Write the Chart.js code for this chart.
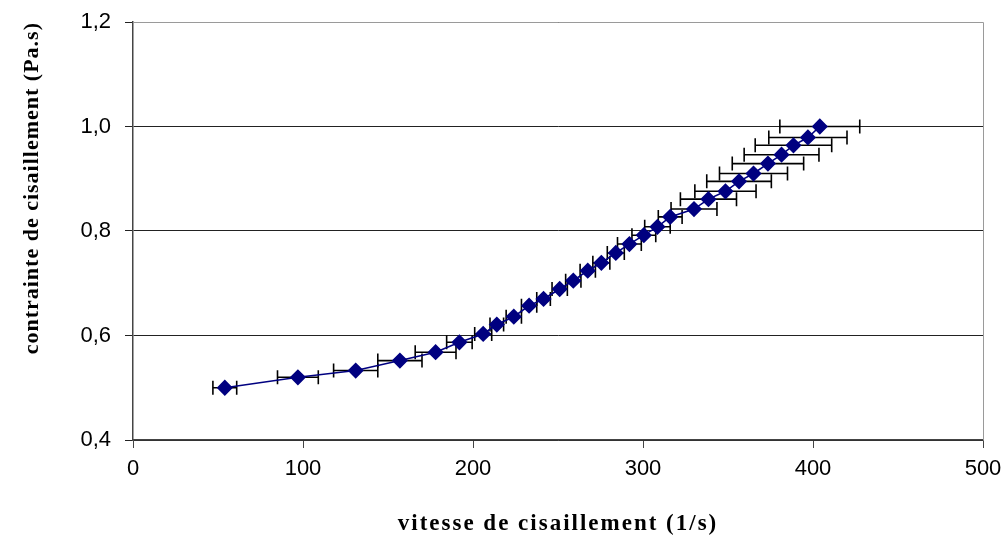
<!DOCTYPE html>
<html>
<head>
<meta charset="utf-8">
<script src="https://cdn.jsdelivr.net/npm/chart.js@4.4.0/dist/chart.umd.min.js"></script>
<style>
  html, body { margin: 0; padding: 0; background: #fff; }
  #wrap { width: 1006px; height: 540px; }
</style>
</head>
<body>
<div id="wrap"><canvas id="myChart" width="1006" height="540"></canvas></div>
<script>
// vitesse de cisaillement (1/s)
const shearRate = [54, 97, 131, 157, 178, 192, 206, 214, 224, 233, 241.5, 251, 259, 267.5, 275.5,
    284, 292, 300.5, 308.5, 316, 330, 338.5, 348.5, 356.5, 365, 373.5, 381.5, 388.5, 397, 404];
// contrainte de cisaillement
const stress = [0.500, 0.520, 0.533, 0.552, 0.568, 0.587, 0.603, 0.621, 0.636, 0.657, 0.670, 0.689, 0.705, 0.724, 0.739,
    0.758, 0.775, 0.792, 0.808, 0.827, 0.842, 0.861, 0.876, 0.895, 0.910, 0.929, 0.946, 0.964, 0.979, 1.000];
// erreur horizontale (+/-)
const rateError = [7, 12, 13, 13, 12, 7.5, 5, 4, 4.5, 4.5, 4, 4.5, 4.5, 4.5, 5,
    5, 7, 7, 7.5, 7, 13.5, 16.5, 18, 19, 20, 21, 22, 22.5, 23, 23.5];

const xTicks = [0, 100, 200, 300, 400, 500];
const yTicks = [0.4, 0.6, 0.8, 1.0, 1.2];

const points = shearRate.map((x, i) => ({ x: x, y: stress[i] }));

// espacement des lettres pour les titres d'axe seulement
function spacedTitle(axis, spacing) {
    if (axis._spaced) return;
    axis._spaced = true;
    const orig = axis.drawTitle;
    axis.drawTitle = function () {
        const ctx = this.ctx;
        ctx.letterSpacing = spacing;
        orig.apply(this, arguments);
        ctx.letterSpacing = '0px';
    };
}

// barres d'erreur horizontales
const errorBars = {
    id: 'errorBars',
    beforeDatasetsDraw(chart) {
        const ctx = chart.ctx;
        const xs = chart.scales.x;
        const ys = chart.scales.y;
        ctx.save();
        ctx.strokeStyle = '#000';
        ctx.lineWidth = 1.6;
        points.forEach((p, i) => {
            const py = ys.getPixelForValue(p.y);
            const x1 = xs.getPixelForValue(p.x - rateError[i]);
            const x2 = xs.getPixelForValue(p.x + rateError[i]);
            ctx.beginPath();
            ctx.moveTo(x1, py);
            ctx.lineTo(x2, py);
            ctx.moveTo(x1, py - 7);
            ctx.lineTo(x1, py + 7);
            ctx.moveTo(x2, py - 7);
            ctx.lineTo(x2, py + 7);
            ctx.stroke();
        });
        ctx.restore();
    }
};

// bordure du graphique (haut et droite)
const frame = {
    id: 'frame',
    beforeDatasetsDraw(chart) {
        const a = chart.chartArea;
        const ctx = chart.ctx;
        ctx.save();
        ctx.strokeStyle = '#9a9a9a';
        ctx.lineWidth = 1;
        ctx.beginPath();
        ctx.moveTo(a.left, a.top + 0.5);
        ctx.lineTo(a.right + 0.5, a.top + 0.5);
        ctx.lineTo(a.right + 0.5, a.bottom);
        ctx.stroke();
        ctx.restore();
    }
};

new Chart(document.getElementById('myChart'), {
    type: 'scatter',
    data: {
        datasets: [{
            data: points,
            showLine: true,
            borderColor: '#000080',
            borderWidth: 1.6,
            backgroundColor: '#000080',
            pointStyle: 'rectRot',
            pointRadius: 7,
            pointHoverRadius: 7,
            tension: 0
        }]
    },
    options: {
        responsive: false,
        animation: false,
        layout: { padding: { top: 22, right: 23, left: 0, bottom: 0 } },
        plugins: {
            legend: { display: false },
            tooltip: { enabled: false }
        },
        scales: {
            x: {
                type: 'linear',
                min: 0,
                max: 500,
                afterBuildTicks: axis => { axis.ticks = xTicks.map(v => ({ value: v })); },
                afterFit: axis => {
                    axis.height = 100;
                    axis.paddingLeft = 0;
                    axis.paddingRight = 0;
                    spacedTitle(axis, '2px');
                },
                grid: { drawOnChartArea: false, drawTicks: true, tickLength: 8, color: '#444' },
                border: { color: '#444', width: 1.5 },
                ticks: {
                    color: '#000',
                    padding: 8,
                    font: { family: 'Liberation Sans, Arial', size: 22 }
                },
                title: {
                    display: true,
                    text: 'vitesse de cisaillement (1/s)',
                    color: '#000',
                    padding: { top: 0, bottom: 2 },
                    font: { family: 'Liberation Serif, Times New Roman', size: 23, weight: 'bold' }
                }
            },
            y: {
                min: 0.4,
                max: 1.2,
                afterBuildTicks: axis => { axis.ticks = yTicks.map(v => ({ value: v })); },
                afterFit: axis => {
                    axis.width = 133;
                    axis.paddingTop = 0;
                    axis.paddingBottom = 0;
                    spacedTitle(axis, '1px');
                },
                grid: { color: '#222', lineWidth: 1, drawTicks: true, tickLength: 8 },
                border: { color: '#444', width: 1.5 },
                ticks: {
                    color: '#000',
                    padding: 14,
                    font: { family: 'Liberation Sans, Arial', size: 22 },
                    callback: v => v.toFixed(1).replace('.', ',')
                },
                title: {
                    display: true,
                    text: 'contrainte de cisaillement (Pa.s)',
                    align: 'end',
                    color: '#000',
                    padding: { top: 19, bottom: 0 },
                    font: { family: 'Liberation Serif, Times New Roman', size: 22, weight: 'bold' }
                }
            }
        }
    },
    plugins: [frame, errorBars]
});
</script>
</body>
</html>
